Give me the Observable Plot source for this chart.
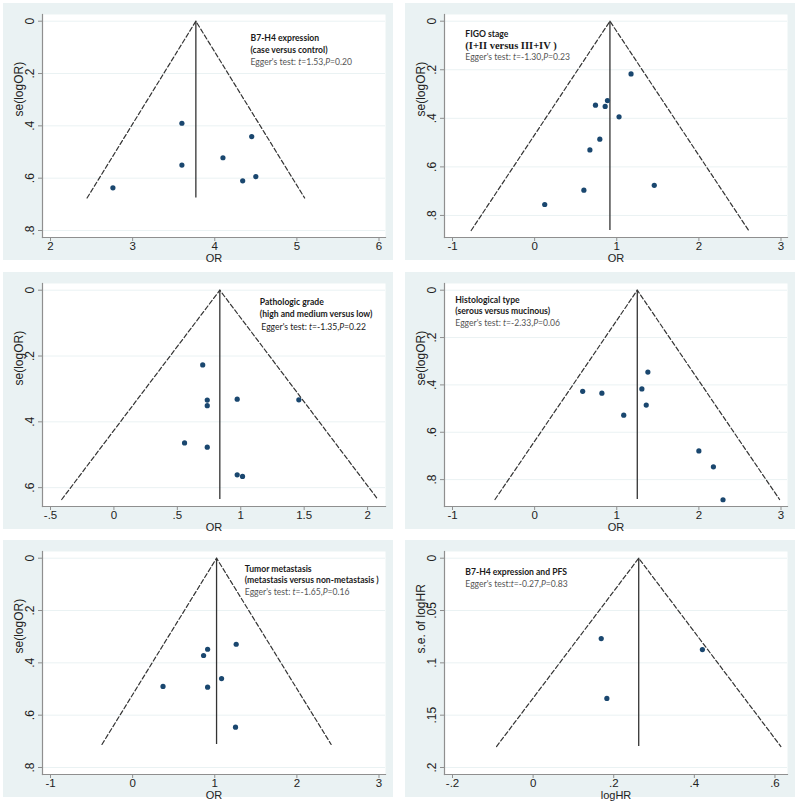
<!DOCTYPE html>
<html><head><meta charset="utf-8">
<script src="https://cdn.jsdelivr.net/npm/d3@7"></script>
<script src="https://cdn.jsdelivr.net/npm/@observablehq/plot@0.6"></script>
<style>
body{margin:0;background:#fff;}
#root{position:relative;width:800px;height:801px;overflow:hidden;background:#fff;}
.panel{position:absolute;width:390px;height:257px;background:#EAF2F3;}
.panel svg{display:block;overflow:visible;}
</style></head><body><div id="root"></div>
<script>
// ---- Panel 1: B7-H4 expression (case versus control)
const p1OR = [3.60, 3.60, 2.76, 4.10, 4.45, 4.34, 4.50];
const p1SE = [0.390, 0.550, 0.637, 0.522, 0.441, 0.610, 0.594];
// ---- Panel 2: FIGO stage
const p2OR = [1.174, 0.887, 0.741, 0.859, 1.028, 0.794, 0.673, 0.600, 0.123, 1.457];
const p2SE = [0.217, 0.327, 0.346, 0.351, 0.394, 0.486, 0.530, 0.696, 0.755, 0.676];
// ---- Panel 3: Pathologic grade
const p3OR = [0.70, 0.736, 0.736, 0.972, 1.458, 0.557, 0.736, 0.972, 1.014];
const p3SE = [0.227, 0.334, 0.351, 0.331, 0.333, 0.464, 0.477, 0.561, 0.566];
// ---- Panel 4: Histological type
const p4OR = [1.379, 0.585, 0.819, 1.306, 1.359, 1.085, 2.000, 2.177, 2.294];
const p4SE = [0.346, 0.427, 0.435, 0.417, 0.485, 0.528, 0.679, 0.746, 0.885];
// ---- Panel 5: Tumor metastasis
const p5OR = [1.261, 0.913, 0.864, 1.083, 0.370, 0.913, 1.253];
const p5SE = [0.329, 0.348, 0.372, 0.460, 0.490, 0.493, 0.646];
// ---- Panel 6: B7-H4 expression and PFS
const p6HR = [0.169, 0.420, 0.183];
const p6SE = [0.0768, 0.0873, 0.134];

// pooled estimates (funnel apex) and funnel depth (max se)
const pooled = [3.77, 0.917, 0.835, 1.25, 1.022, 0.262];
const maxSE  = [0.676, 0.862, 0.636, 0.884, 0.712, 0.180];

// axis ticks
const xTicks = [[2,3,4,5,6],[-1,0,1,2,3],[-0.5,0,0.5,1,1.5,2],[-1,0,1,2,3],[-1,0,1,2,3],[-0.2,0,0.2,0.4,0.6]];
const yTicks = [[0,.2,.4,.6,.8],[0,.2,.4,.6,.8],[0,.2,.4,.6],[0,.2,.4,.6,.8],[0,.2,.4,.6,.8],[0,.05,.1,.15,.2]];
const xDomains = [[2,6],[-1,3],[-0.5,2.09],[-1,3],[-1,3],[-0.2,0.615]];
const yDomains = [[0,0.8],[0,0.862],[0,0.636],[0,0.884],[0,0.8],[0,0.2]];
const xLabels = ["OR","OR","OR","OR","OR","logHR"];
const yLabels = ["se(logOR)","se(logOR)","se(logOR)","se(logOR)","se(logOR)","s.e. of logHR"];

// annotation texts
const notes = [
  ["B7-H4 expression","(case versus control)","Egger's test: t=1.53,P=0.20"],
  ["FIGO stage","(I+II versus III+IV )","Egger's test: t=-1.30,P=0.23"],
  ["Pathologic grade","(high and medium versus low)","Egger's test: t=-1.35,P=0.22"],
  ["Histological type","(serous versus mucinous)","Egger's test: t=-2.33,P=0.06"],
  ["Tumor metastasis","(metastasis versus non-metastasis )","Egger's test: t=-1.65,P=0.16"],
  ["B7-H4 expression and PFS","Egger's test:t=-0.27,P=0.83"]
];

const xs = [p1OR,p2OR,p3OR,p4OR,p5OR,p6HR];
const ses = [p1SE,p2SE,p3SE,p4SE,p5SE,p6SE];

// layout (styling only)
const panelPos = [[3,3],[404.5,3],[3,271.5],[404.5,271.5],[3,540],[404.5,540]];
const noteDx = [208, 20.8, 217.3, 10.8, 202.3, 20.8];
const noteDy = [[23.7,36,47.7],[19.3,31,42.7],[19.2,30.8,43.5],[16.8,28.2,39.8],[17.3,29,40.7],[20.7,32.3]];

const fmt = v => { let s = String(+(+v).toFixed(3)); return s.replace(/^(-?)0\./, "$1."); };
const BG = "#EAF2F3";
const root = document.getElementById("root");

for (let i = 0; i < 6; i++) {
  const data = xs[i].map((x, j) => ({x, se: ses[i][j]}));
  const c = pooled[i], m = maxSE[i];
  const funnel = [{x: c - 1.96*m, se: m}, {x: c, se: 0}, {x: c + 1.96*m, se: m}];
  const lines = notes[i];
  const noteMarks = lines.map((t, k) => {
    const isEgger = t.startsWith("Egger");
    const serif = (i === 1 && k === 1);
    return Plot.text([t], {
      frameAnchor: "top-left", textAnchor: "start", lineAnchor: "middle",
      dx: noteDx[i] + (i === 2 && isEgger ? 1.5 : 0), dy: noteDy[i][k],
      fontSize: serif ? 10.5 : 8.6,
      fontWeight: isEgger ? "normal" : "bold",
      fontFamily: serif ? "Liberation Serif, serif" : "Lato, sans-serif",
      fill: isEgger ? (i === 2 ? "#222" : "#555") : "#1a1a1a"
    });
  });
  const svg = Plot.plot({
    width: 390, height: 257,
    marginLeft: 39, marginTop: 11, marginRight: 8, marginBottom: 23,
    style: {background: "transparent", fontFamily: "Liberation Sans, Arial, sans-serif", color: "#222", overflow: "visible"},
    x: {domain: xDomains[i], insetLeft: 8, insetRight: 6.5},
    y: {domain: yDomains[i], reverse: true, insetTop: 6.7, insetBottom: 7},
    marks: [
      Plot.frame({fill: "white"}),
      Plot.gridY(yTicks[i], {stroke: BG, strokeOpacity: 1, strokeWidth: 1}),
      Plot.frame({anchor: "left", stroke: "#8f8f8f", strokeWidth: 1.2}),
      Plot.frame({anchor: "bottom", stroke: "#8f8f8f", strokeWidth: 1.2}),
      Plot.axisX(xTicks[i], {tickSize: 4, tickPadding: 0.5, tickFormat: fmt, fontSize: 11.5, stroke: "#8f8f8f", fill: "#222", label: null}),
      Plot.axisY(yTicks[i], {tickSize: 4, tickRotate: -90, tickFormat: fmt, fontSize: 12, stroke: "#8f8f8f", fill: "#222", label: null}),
      Plot.text([xLabels[i]], {frameAnchor: "bottom", dy: 21, lineAnchor: "middle", fontSize: 11, fill: "#222"}),
      Plot.text([yLabels[i]], {frameAnchor: "left", rotate: -90, dx: -23, dy: -9.5, lineAnchor: "middle", fontSize: 12, fill: "#222"}),
      Plot.line(funnel, {x: "x", y: "se", stroke: "#333", strokeWidth: 1.2, strokeDasharray: "4.5,2.5"}),
      Plot.ruleX([c], {y1: 0, y2: m, stroke: "#333", strokeWidth: 1.3}),
      Plot.dot(data, {x: "x", y: "se", r: 2.6, fill: "#1a476f", stroke: "none"}),
      ...noteMarks
    ]
  });
  d3.select(svg).selectAll("text").each(function() {
    const t = this.textContent;
    if (t.startsWith("Egger")) {
      this.innerHTML = t.replace(/t=/, '<tspan font-style="italic">t</tspan>=').replace(/P=/, '<tspan font-style="italic">P</tspan>=');
    }
  });
  const div = document.createElement("div");
  div.className = "panel";
  div.style.left = panelPos[i][0] + "px";
  div.style.top = panelPos[i][1] + "px";
  div.appendChild(svg);
  root.appendChild(div);
}
</script></body></html>
